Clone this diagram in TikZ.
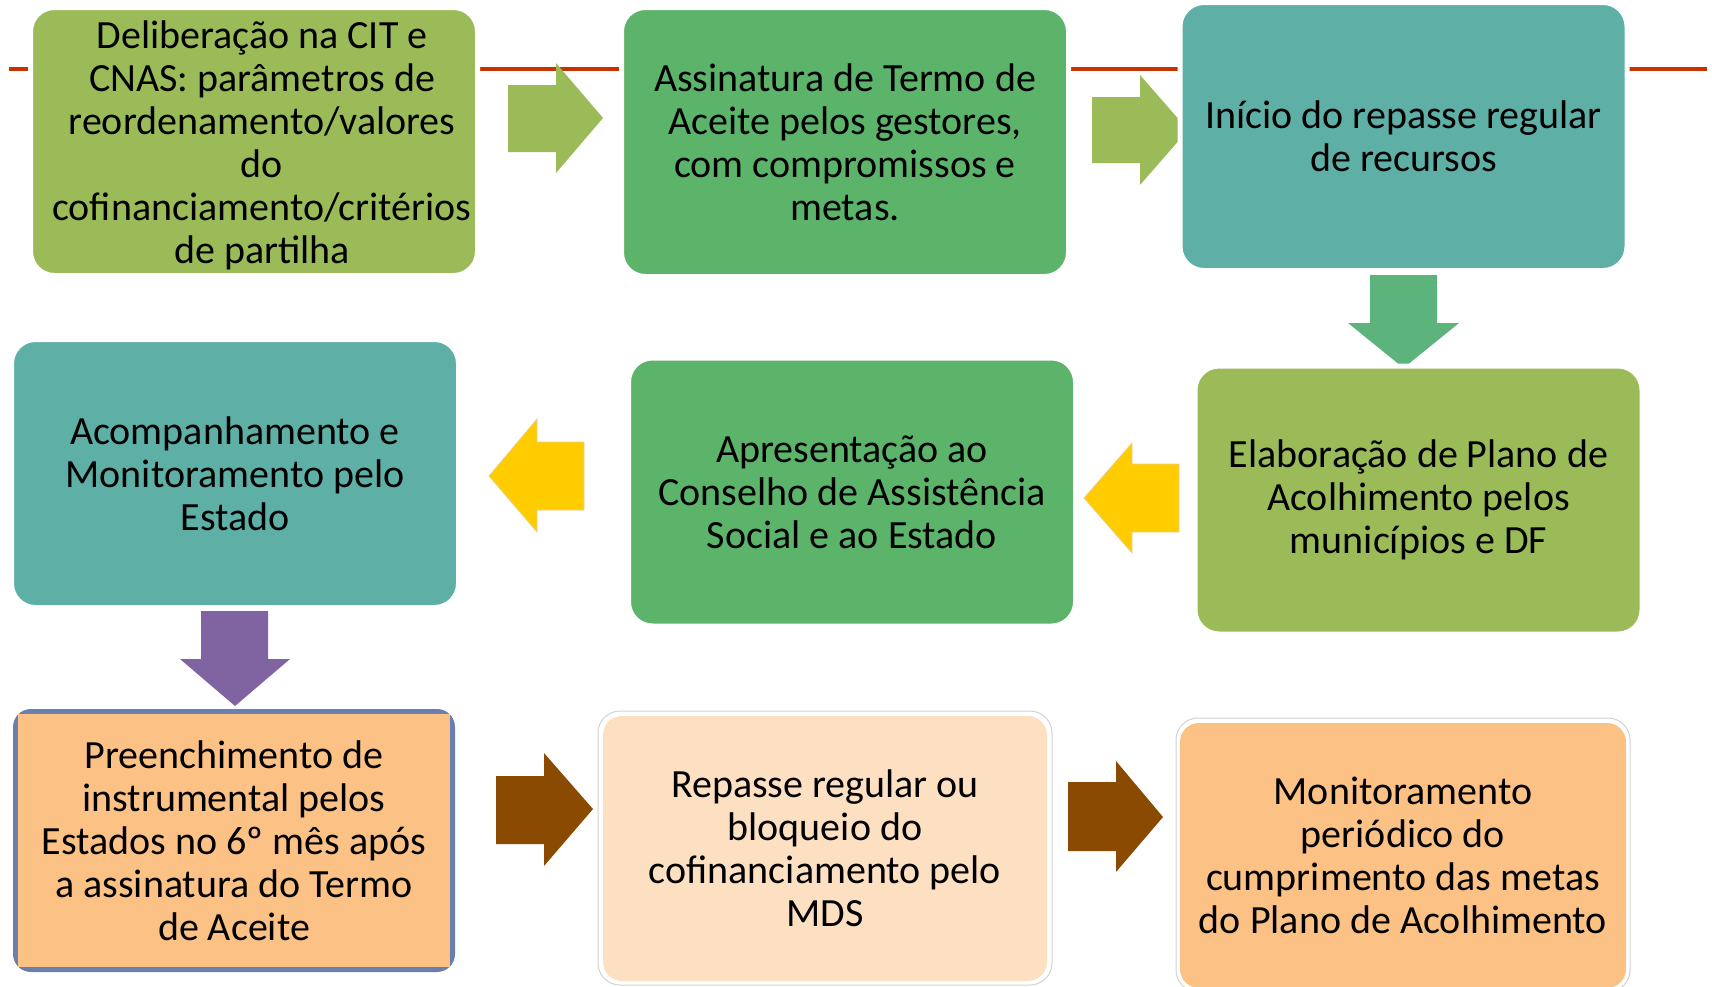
\documentclass[tikz,border=0pt]{standalone}
\usepackage{fontspec}
\setmainfont{Carlito}
\definecolor{lgreen}{HTML}{9BBB59}
\definecolor{mgreen}{HTML}{5CB46A}
\definecolor{tealc}{HTML}{5EAFA6}
\definecolor{dgreen}{HTML}{5CB37C}
\definecolor{yellowc}{HTML}{FFCC00}
\definecolor{yedge}{HTML}{E8D090}
\definecolor{purplec}{HTML}{8064A2}
\definecolor{brownc}{HTML}{8B4A02}
\definecolor{orangec}{HTML}{FCC184}
\definecolor{peach}{HTML}{FDDFC2}
\definecolor{bluegray}{HTML}{6A7EB0}
\definecolor{redline}{HTML}{C63300}
\begin{document}
\begin{tikzpicture}[x=1pt,y=-1pt,
  txt/.style={inner sep=0pt, align=center, font=\fontsize{40}{43}\selectfont},
  box/.style={txt, rounded corners=24pt, draw=white, line width=5pt, minimum width=#1},
  box/.default=447pt,
  blockarrow/.style={fill=#1, draw=none}]
\useasboundingbox (0,0) rectangle (1712,986);
\clip (0,0) rectangle (1712,986);
% red horizontal line
\coordinate (rl) at (9,69);
\coordinate (rr) at (1707,69);
\draw[redline, line width=4pt] (rl) -- (rr);
% block arrows
\fill[blockarrow=lgreen] (508,85) -- (556,85) -- (556,63) -- (603,118) -- (556,173) -- (556,152) -- (508,152) -- cycle;
\fill[blockarrow=lgreen] (1092,97) -- (1140,97) -- (1140,75) -- (1188,130) -- (1140,185) -- (1140,163) -- (1092,163) -- cycle;
\fill[blockarrow=dgreen] (1370,275) -- (1437,275) -- (1437,323) -- (1459,323) -- (1403.5,368) -- (1348,323) -- (1370,323) -- cycle;
\filldraw[fill=yellowc, draw=yedge, line width=0.8pt] (1084,498) -- (1132,443) -- (1132,464) -- (1179,464) -- (1179,532) -- (1132,532) -- (1132,553) -- cycle;
\filldraw[fill=yellowc, draw=yedge, line width=0.8pt] (489,476) -- (537,419) -- (537,442) -- (584,442) -- (584,510) -- (537,510) -- (537,532) -- cycle;
\fill[blockarrow=purplec] (201,611) -- (268,611) -- (268,659) -- (290,659) -- (235,706) -- (180,659) -- (201,659) -- cycle;
\fill[blockarrow=brownc] (496,776) -- (544,776) -- (544,753) -- (593,809) -- (544,866) -- (544,844) -- (496,844) -- cycle;
\fill[blockarrow=brownc] (1068,782) -- (1116,782) -- (1116,761) -- (1163,817) -- (1116,872) -- (1116,851) -- (1068,851) -- cycle;
% row 1
\node[box, fill=lgreen, minimum height=268pt] (b1) at (254,141.5) {};
\node[txt] (b1t) at (262,145) {Deliberação na CIT e\\CNAS: parâmetros de\\reordenamento/valores\\do\\cofinanciamento/critérios\\de partilha};
\node[box, fill=mgreen, minimum height=269pt] (b2) at (845,142) {Assinatura de Termo de\\Aceite pelos gestores,\\com compromissos e\\metas.};
\node[box, fill=tealc, minimum height=268pt] (b3) at (1403.5,136.5) {Início do repasse regular\\de recursos};
% row 2
\node[box, fill=lgreen, minimum height=268pt] (b4) at (1418.5,500) {Elaboração de Plano de\\Acolhimento pelos\\municípios e DF};
\node[box, fill=mgreen, minimum height=268pt] (b5) at (852,492) {Apresentação ao\\Conselho de Assistência\\Social e ao Estado};
\node[box, fill=tealc, minimum height=268pt] (b6) at (235,473.5) {Acompanhamento e\\Monitoramento pelo\\Estado};
% row 3
\node[fill=bluegray, rounded corners=18pt, inner sep=0pt, minimum width=442pt, minimum height=263pt] (b7) at (234,840.5) {};
\fill[orangec] (18,714) rectangle (450,967);
\node[txt] (b7t) at (b7.center) {Preenchimento de\\instrumental pelos\\Estados no 6º mês após\\a assinatura do Termo\\de Aceite};
\node[draw=gray!35, line width=1pt, fill=white, rounded corners=22pt, inner sep=0pt, minimum width=454pt, minimum height=274pt] (b8) at (825,848) {};
\node[txt, fill=peach, rounded corners=19pt, minimum width=444pt, minimum height=265pt] (b8t) at (825,848.5) {Repasse regular ou\\bloqueio do\\cofinanciamento pelo\\MDS};
\node[draw=gray!35, line width=1pt, fill=white, rounded corners=22pt, inner sep=0pt, minimum width=454pt, minimum height=274pt] (b9) at (1403,855) {};
\node[txt, fill=orangec, rounded corners=19pt, minimum width=446pt, minimum height=265pt] (b9t) at (1403,855.5) {Monitoramento\\periódico do\\cumprimento das metas\\do Plano de Acolhimento};
\end{tikzpicture}
\end{document}
